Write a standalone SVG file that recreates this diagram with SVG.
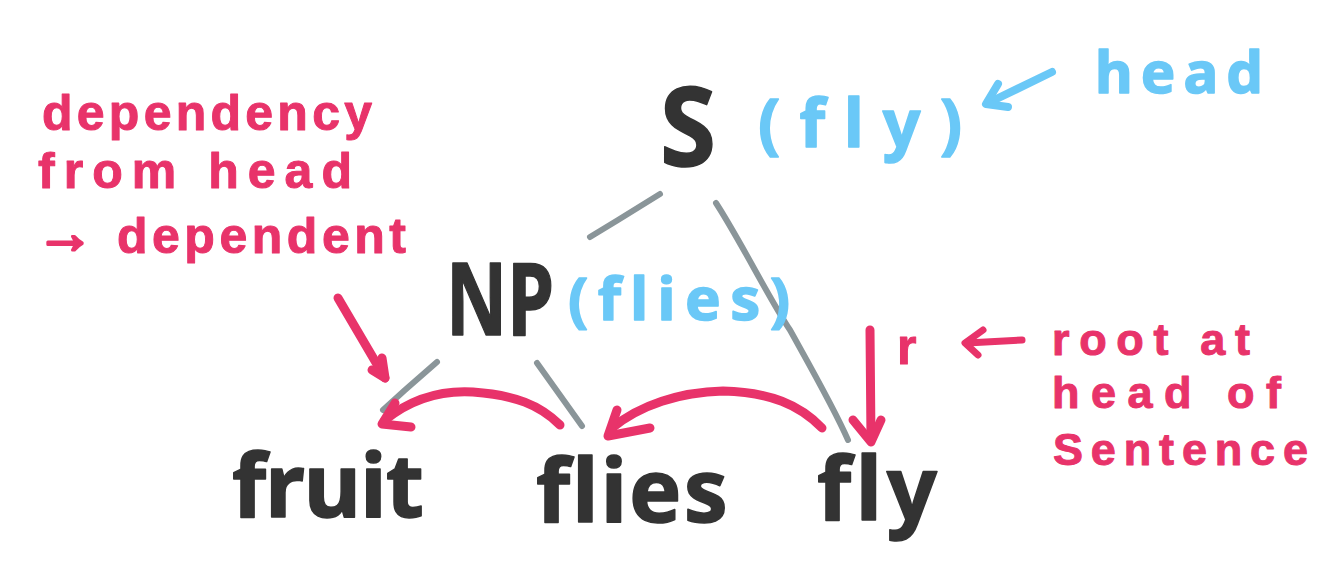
<svg xmlns="http://www.w3.org/2000/svg" width="1342" height="580" viewBox="0 0 1342 580">
<style>
text{font-family:"Noto Sans","DejaVu Sans",sans-serif;font-weight:700;stroke-linejoin:round;stroke-width:1.5;font-variant-ligatures:none;font-feature-settings:"liga" 0,"clig" 0}
.pk{fill:#E8336A;stroke:#E8336A;font-family:"Liberation Sans",Arial,sans-serif;stroke-width:1}
.bl{fill:#6AC8F7;stroke:#6AC8F7}
.dk{fill:#333333;stroke:#333333}
.gl{fill:none;stroke:#8A9599;stroke-width:6;stroke-linecap:round;stroke-linejoin:round}
.pl{fill:none;stroke:#E8336A;stroke-width:9;stroke-linecap:round;stroke-linejoin:round}
.bla{fill:none;stroke:#6AC8F7;stroke-width:8;stroke-linecap:round;stroke-linejoin:round}
</style>
<rect width="1342" height="580" fill="#ffffff"/>
<g id="connectors">
<path class="gl" d="M590,237 L618,220 L660,194"/>
<path class="gl" d="M716,203 C740,240 770,300 790,330 C815,375 835,410 848,440"/>
<path class="gl" d="M437,362 L405,390 L383,410"/>
<path class="gl" d="M537,363 L582,426"/>
<path class="pl" d="M560,425 C540,405 515,395 473,392 C440,390 410,400 385,420"/>
<path class="pl" d="M395,403 L382,424 L411,427"/>
<path class="pl" d="M822,428 C800,405 770,392 723,391 C680,392 640,405 612,428"/>
<path class="pl" d="M617,410 L608,436 L650,428"/>
<path class="pl" d="M870,330 L871,440"/>
<path class="pl" d="M853,420 L871,442 L881,420"/>
<path class="pl" d="M338,298 L385,378"/>
<path class="pl" d="M372,370 L385,378 L382,358"/>
</g>
<g id="annot-arrows">
<path class="pl" style="stroke-width:7" d="M1022,340 L967,343"/>
<path class="pl" style="stroke-width:7" d="M983,330 L965,343 L978,355"/>
<path class="bla" d="M1052,72 L988,103"/>
<path class="bla" d="M998,84 L986,104 L1008,107"/>
</g>
<g id="node-S"><text class="dk" x="660" y="166" font-size="110" textLength="56" lengthAdjust="spacingAndGlyphs">S</text></g>
<g id="node-S-head"><text class="bl" x="758" y="147" font-size="66" textLength="204" lengthAdjust="spacing">(fly)</text></g>
<g id="node-NP"><text class="dk" x="446" y="335" font-size="100" textLength="108" lengthAdjust="spacingAndGlyphs">NP</text></g>
<g id="node-NP-head"><text class="bl" x="568" y="320" font-size="60" textLength="222" lengthAdjust="spacing">(flies)</text></g>
<g id="node-fruit"><text class="dk" x="232" y="517" font-size="88" textLength="192" lengthAdjust="spacing">fruit</text></g>
<g id="node-flies"><text class="dk" x="536" y="522" font-size="88" textLength="192" lengthAdjust="spacing">flies</text></g>
<g id="node-fly"><text class="dk" x="817" y="520" font-size="88" textLength="120" lengthAdjust="spacing">fly</text></g>
<g id="label-r"><text class="pk" x="897" y="364" font-size="50">r</text></g>
<g id="note-head"><text class="bl" x="1095" y="93" font-size="58" textLength="168" lengthAdjust="spacing">head</text></g>
<g id="note-dependency">
<text class="pk" x="42" y="130" font-size="50" textLength="330" lengthAdjust="spacing">dependency</text>
<text class="pk" x="38" y="188" font-size="50" textLength="314" lengthAdjust="spacing">from head</text>
<text class="pk" x="36" y="253" font-size="50" textLength="370" lengthAdjust="spacing"><tspan font-size="58" style="stroke-width:3">→</tspan> dependent</text>
</g>
<g id="note-root">
<text class="pk" x="1052" y="355" font-size="45" textLength="198" lengthAdjust="spacing">root at</text>
<text class="pk" x="1052" y="408" font-size="45" textLength="229" lengthAdjust="spacing">head of</text>
<text class="pk" x="1053" y="465" font-size="45" textLength="255" lengthAdjust="spacing">Sentence</text>
</g>
</svg>
